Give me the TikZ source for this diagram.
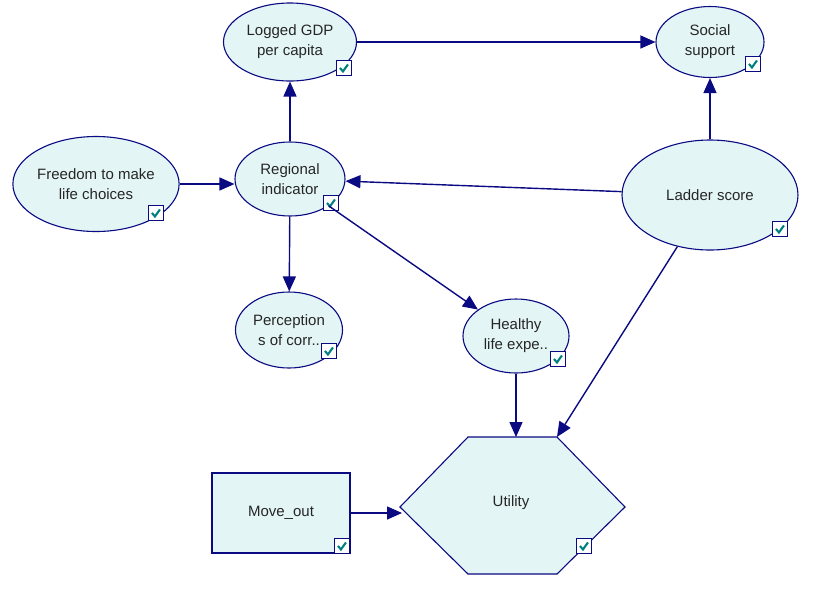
\documentclass[tikz,border=0pt]{standalone}
\usepackage{fontspec}
\setmainfont{Liberation Sans}
\usetikzlibrary{shapes.geometric,arrows.meta,calc}
\definecolor{navy}{RGB}{10,10,130}
\definecolor{nodefill}{RGB}{228,245,246}
\definecolor{checkc}{RGB}{0,128,128}
\begin{document}
\begin{tikzpicture}[x=1pt,y=-1pt,
  every node/.style={font=\fontsize{15}{20}\selectfont,text=black!85},
  ell/.style={ellipse,draw=navy,fill=nodefill,line width=1.1pt,inner sep=0pt,align=center},
  rectnode/.style={rectangle,draw=navy,fill=nodefill,line width=1.1pt,inner sep=0pt,align=center},
  cbox/.style={draw=navy,fill=white,line width=1.1pt,minimum size=15pt,inner sep=0pt,anchor=south east,
    path picture={\draw[checkc,line width=2.1pt]
      ([xshift=3.5pt,yshift=7.5pt]path picture bounding box.south west) --
      ([xshift=6.5pt,yshift=4pt]path picture bounding box.south west) --
      ([xshift=11.5pt,yshift=11pt]path picture bounding box.south west);}},
  conn/.style={draw=navy,line width=1.4pt,-{Triangle[length=15pt,width=13pt]}}]
\fill[white] (0,0) rectangle (820,598);
\useasboundingbox (0,0) rectangle (820,598);

% nodes
\node[ell,minimum width=133pt,minimum height=78pt] (gdp) at (290,42) {Logged GDP\\per capita};
\node[ell,minimum width=108pt,minimum height=71pt] (social) at (710,42) {Social\\support};
\node[ell,minimum width=154pt,minimum height=95pt] (freedom) at (96,184) {Freedom to make\\life choices};
\node[ell,minimum width=110pt,minimum height=74pt] (regional) at (290,179) {Regional\\indicator};
\node[ell,minimum width=176pt,minimum height=110pt] (ladder) at (710,195) {Ladder score};
\node[ell,minimum width=107pt,minimum height=76pt] (percep) at (289,330) {Perception\\s of corr..};
\node[ell,minimum width=106pt,minimum height=74pt] (healthy) at (516,336) {Healthy\\life expe..};
\node[rectnode,minimum width=138pt,minimum height=80pt] (move) at (281,513) {Move\_out};

% utility hexagon
\draw[navy,fill=nodefill,line width=1.1pt] (400,507) -- (468,437) -- (557,437) -- (625,507) -- (557,574) -- (468,574) -- cycle;
\node (utility) at (511,503) {Utility};
\coordinate (uTop) at (516,437);
\coordinate (uTR) at (557,437);
\coordinate (uL) at (402,513);

% check boxes
\node[cbox] (cb1) at (352,76) {};
\node[cbox] (cb2) at (761,72) {};
\node[cbox] (cb3) at (164,221) {};
\node[cbox] (cb4) at (339,211) {};
\node[cbox] (cb5) at (788,237) {};
\node[cbox] (cb6) at (337,359) {};
\node[cbox] (cb7) at (566,367) {};
\node[cbox] (cb8) at (350,554) {};
\node[cbox] (cb9) at (592,554) {};

% connectors
\draw[conn] (gdp) -- (social);
\draw[conn] (regional) -- (gdp);
\draw[conn] (freedom.east) -- (freedom.east -| regional.west);
\draw[conn] (ladder) -- (regional);
\draw[conn] (ladder) -- (social);
\draw[conn] (regional) -- (percep);
\draw[conn] (regional) -- (healthy);
\draw[conn] (healthy.south) -- (uTop);
\draw[conn] (ladder) -- (uTR);
\draw[conn] (move.east) -- (uL);
\end{tikzpicture}
\end{document}
